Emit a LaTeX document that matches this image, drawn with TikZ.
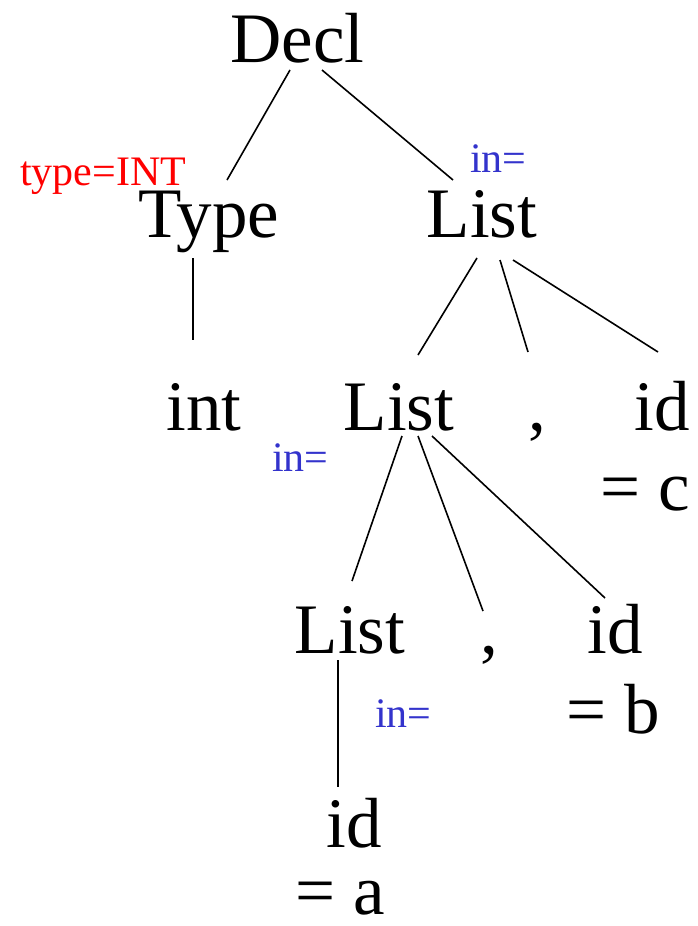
\documentclass[tikz,border=0pt]{standalone}
\usepackage{fontspec}
\setmainfont{Liberation Serif}
\definecolor{attrblue}{RGB}{51,51,204}
\definecolor{attrred}{RGB}{255,0,0}
\begin{document}
\begin{tikzpicture}[x=1pt,y=-1pt,
  sym/.style={anchor=base,inner sep=0pt,font=\fontsize{71}{80}\selectfont},
  eqn/.style={anchor=base east,inner sep=0pt,font=\fontsize{71}{80}\selectfont},
  attr/.style={anchor=base west,inner sep=0pt,font=\fontsize{42}{48}\selectfont},
  edge/.style={line width=1.6pt}]
\useasboundingbox (0,0) rectangle (698,926);
% symbols
\node[sym] (decl) at (297.5,62) {Decl};
\node[sym] (type) at (208.5,237) {Type};
\node[sym] (listA) at (482,237) {List};
\node[sym] (int) at (204,430) {int};
\node[sym] (listB) at (399,430) {List};
\node[sym] (commaA) at (537,430) {,};
\node[sym] (idC) at (662,430) {id};
\node[eqn] (eqC) at (690,510) {= c};
\node[sym] (listC) at (350,653) {List};
\node[sym] (commaB) at (489,653) {,};
\node[sym] (idB) at (615,653) {id};
\node[eqn] (eqB) at (660,733) {= b};
\node[sym] (idA) at (354,847) {id};
\node[eqn] (eqA) at (385,914) {= a};
% attributes
\node[attr,text=attrred] (typeattr) at (20,185) {type=INT};
\node[attr,text=attrblue] (inA) at (470,172) {in=};
\node[attr,text=attrblue] (inB) at (272,471) {in=};
\node[attr,text=attrblue] (inC) at (375,727) {in=};
% edges
\draw[edge] ([shift={(-7.5,8)}]decl.base) -- ([shift={(18.5,-57)}]type.base);
\draw[edge] ([shift={(24.5,8)}]decl.base) -- ([shift={(-29,-57)}]listA.base);
\draw[edge] ([shift={(-15.5,21)}]type.base) -- ([shift={(-11,-90)}]int.base);
\draw[edge] ([shift={(-5,21)}]listA.base) -- ([shift={(19,-75)}]listB.base);
\draw[edge] ([shift={(18,23)}]listA.base) -- ([shift={(-9,-78)}]commaA.base);
\draw[edge] ([shift={(31,23)}]listA.base) -- ([shift={(-4,-78)}]idC.base);
\draw[edge] ([shift={(3,6)}]listB.base) -- ([shift={(2,-72)}]listC.base);
\draw[edge] ([shift={(19,6)}]listB.base) -- ([shift={(-6,-42)}]commaB.base);
\draw[edge] ([shift={(33,6)}]listB.base) -- ([shift={(-10,-55)}]idB.base);
\draw[edge] ([shift={(-12,7)}]listC.base) -- ([shift={(-16,-60)}]idA.base);
\end{tikzpicture}
\end{document}
